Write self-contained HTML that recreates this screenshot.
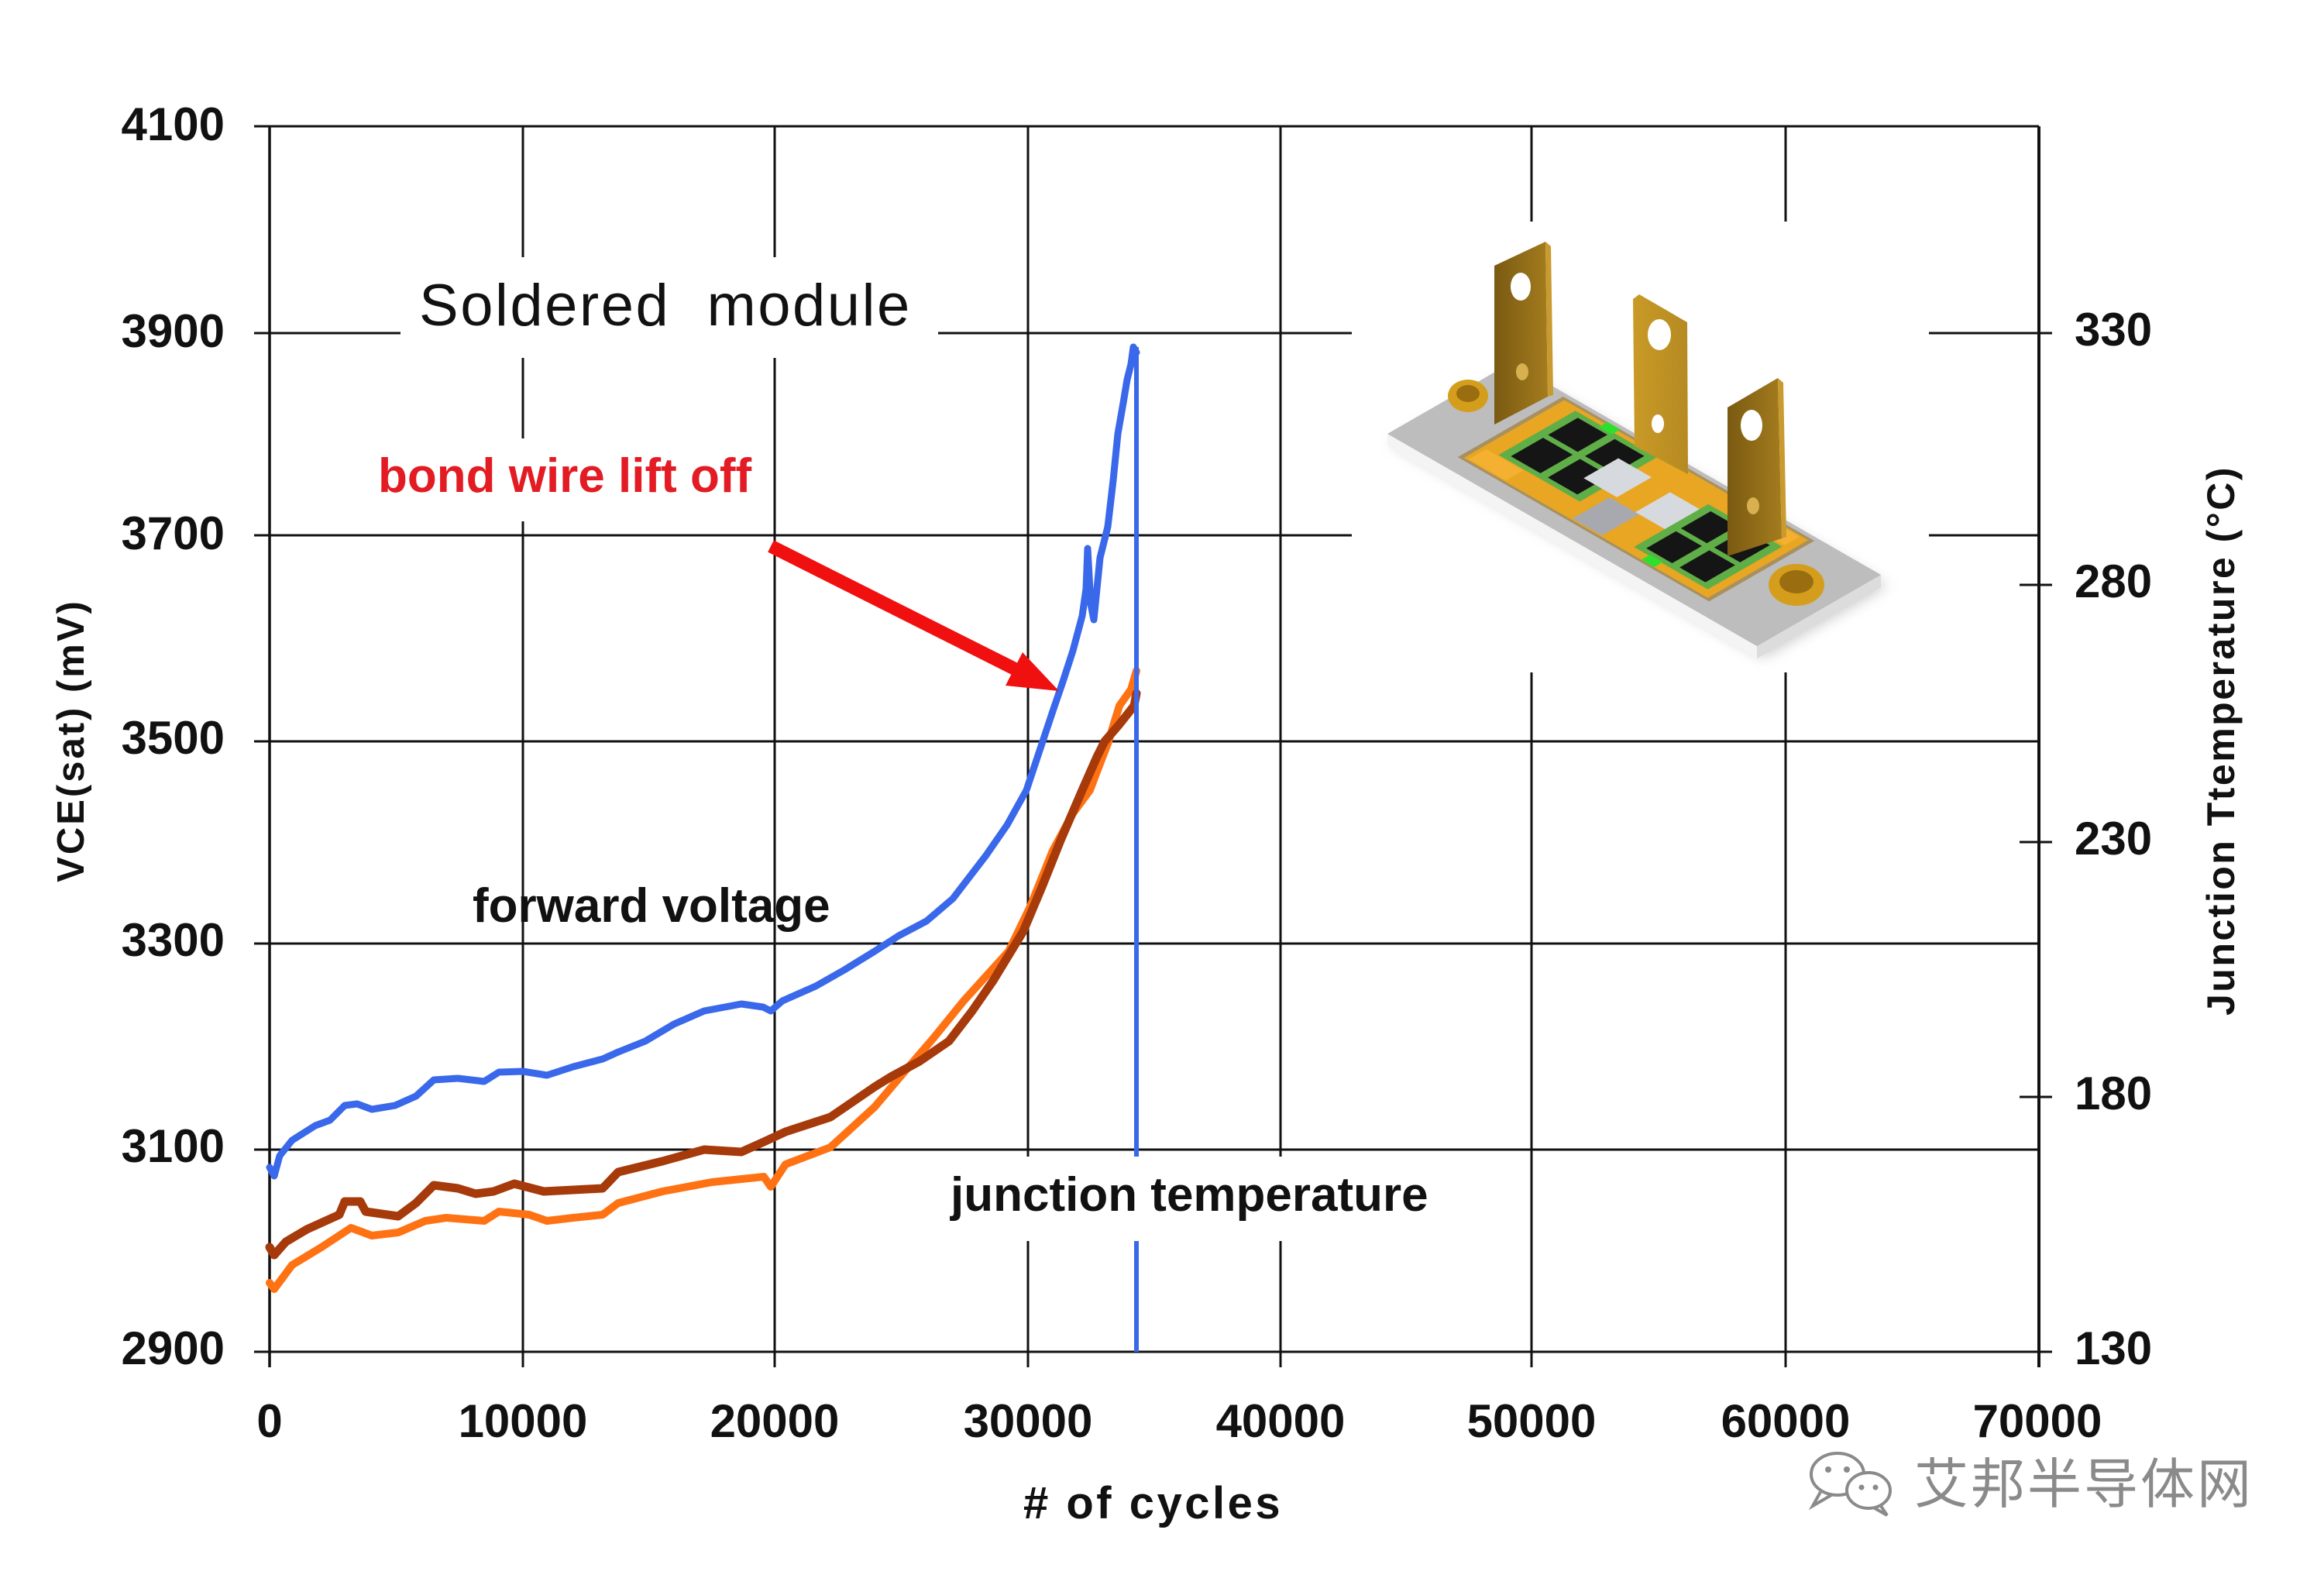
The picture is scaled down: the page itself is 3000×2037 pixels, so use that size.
<!DOCTYPE html>
<html><head><meta charset="utf-8">
<style>
html,body{margin:0;padding:0;background:#fff;}
svg{display:block;}
</style></head>
<body>
<svg width="3000" height="2037" viewBox="0 0 3000 2037" xmlns="http://www.w3.org/2000/svg" font-family="'Liberation Sans', Arial, sans-serif">
<defs>
<filter id="blur" x="-20%" y="-20%" width="140%" height="140%"><feGaussianBlur stdDeviation="9"/></filter>
<linearGradient id="tdark" x1="0" y1="0" x2="1" y2="0"><stop offset="0" stop-color="#7a5a12"/><stop offset="1" stop-color="#a47c1e"/></linearGradient>
<linearGradient id="tlight" x1="0" y1="0" x2="1" y2="0"><stop offset="0" stop-color="#c99a26"/><stop offset="1" stop-color="#b58a22"/></linearGradient>
</defs>
<rect width="3000" height="2037" fill="#fff"/>

<!-- gridlines -->
<g stroke="#111" stroke-width="3" fill="none">
<line x1="328" y1="163" x2="2632" y2="163"/>
<line x1="328" y1="430" x2="2649" y2="430"/>
<line x1="328" y1="691" x2="2632" y2="691"/>
<line x1="328" y1="957" x2="2632" y2="957"/>
<line x1="328" y1="1218" x2="2632" y2="1218"/>
<line x1="328" y1="1484" x2="2632" y2="1484"/>
<line x1="328" y1="1745" x2="2649" y2="1745"/>
<line x1="675" y1="163" x2="675" y2="1765"/>
<line x1="1000" y1="163" x2="1000" y2="1765"/>
<line x1="1327" y1="163" x2="1327" y2="1765"/>
<line x1="1653" y1="163" x2="1653" y2="1765"/>
<line x1="1977" y1="163" x2="1977" y2="1765"/>
<line x1="2305" y1="163" x2="2305" y2="1765"/>
<line x1="2607" y1="755" x2="2649" y2="755"/>
<line x1="2607" y1="1087" x2="2649" y2="1087"/>
<line x1="2607" y1="1416" x2="2649" y2="1416"/>
</g>
<line x1="348" y1="163" x2="348" y2="1765" stroke="#111" stroke-width="3.5"/>
<line x1="2632" y1="163" x2="2632" y2="1765" stroke="#111" stroke-width="4"/>

<!-- data series -->
<g fill="none" stroke-linejoin="round" stroke-linecap="round">
<polyline stroke="#ff7214" stroke-width="10" points="348,1656 354,1664 377,1633 415,1610 453,1585 480,1595 514,1591 549,1576 576,1572 625,1576 644,1564 683,1568 706,1576 740,1572 778,1568 798,1553 855,1538 919,1526 986,1519 995,1532 1014,1503 1072,1481 1129,1429 1168,1383 1205,1340 1244,1292 1302,1228 1330,1170 1359,1098 1385,1050 1407,1020 1416,996 1430,960 1445,911 1460,890 1467,866"/>
<polyline stroke="#a63a0a" stroke-width="11" points="348,1610 354,1620 369,1603 396,1587 438,1568 445,1551 465,1551 472,1564 514,1570 537,1553 560,1530 591,1534 614,1541 637,1538 664,1528 702,1538 740,1536 778,1534 798,1513 855,1499 909,1484 957,1487 986,1474 1014,1461 1072,1442 1129,1403 1150,1390 1187,1370 1225,1344 1255,1305 1282,1266 1321,1202 1345,1145 1369,1085 1397,1020 1416,977 1426,957 1445,935 1464,911 1467,895"/>
<polyline stroke="#3a68ea" stroke-width="9" points="348,1507 354,1518 361,1492 377,1472 407,1453 426,1446 445,1427 461,1425 480,1432 510,1427 537,1415 560,1394 591,1392 625,1396 644,1384 675,1383 706,1388 740,1377 778,1367 798,1358 833,1344 870,1322 909,1305 957,1296 985,1300 995,1305 1010,1292 1053,1273 1090,1252 1129,1228 1160,1208 1196,1189 1230,1160 1273,1104 1300,1065 1325,1020 1345,960 1359,918 1372,880 1385,840 1397,795 1402,760 1404,708 1408,780 1412,800 1416,760 1420,720 1425,700 1430,680 1437,620 1443,560 1450,520 1455,490 1460,470 1463,448 1467,455"/>
<line x1="1467" y1="448" x2="1467" y2="1745" stroke="#3a68ea" stroke-width="6" stroke-linecap="butt"/>
</g>

<!-- white label boxes -->
<rect x="517" y="332" width="694" height="130" fill="#fff"/>
<rect x="470" y="566" width="520" height="107" fill="#fff"/>
<rect x="1200" y="1493" width="670" height="109" fill="#fff"/>
<rect x="1745" y="286" width="745" height="582" fill="#fff"/>

<!-- annotations -->
<text x="541" y="420" font-size="76" letter-spacing="2.5" fill="#111">Soldered&#160;&#160;module</text>
<text x="488" y="635" font-size="62" font-weight="bold" fill="#e31b23">bond wire lift off</text>
<text x="610" y="1190" font-size="62" font-weight="bold" fill="#111">forward voltage</text>
<text x="1227" y="1563" font-size="62" font-weight="bold" fill="#111">junction temperature</text>

<!-- arrow -->
<line x1="995" y1="705" x2="1315" y2="866" stroke="#f01010" stroke-width="17"/>
<polygon points="1367,892 1298,885 1320,842" fill="#f01010"/>

<!-- left tick labels -->
<g font-size="60" font-weight="bold" fill="#111" text-anchor="end">
<text x="290" y="181">4100</text>
<text x="290" y="448">3900</text>
<text x="290" y="709">3700</text>
<text x="290" y="973">3500</text>
<text x="290" y="1234">3300</text>
<text x="290" y="1500">3100</text>
<text x="290" y="1761">2900</text>
</g>
<!-- right tick labels -->
<g font-size="60" font-weight="bold" fill="#111">
<text x="2678" y="446">330</text>
<text x="2678" y="771">280</text>
<text x="2678" y="1103">230</text>
<text x="2678" y="1432">180</text>
<text x="2678" y="1761">130</text>
</g>
<!-- x tick labels -->
<g font-size="60" font-weight="bold" fill="#111" text-anchor="middle">
<text x="348" y="1855">0</text>
<text x="675" y="1855">10000</text>
<text x="1000" y="1855">20000</text>
<text x="1327" y="1855">30000</text>
<text x="1653" y="1855">40000</text>
<text x="1977" y="1855">50000</text>
<text x="2305" y="1855">60000</text>
<text x="2630" y="1855">70000</text>
</g>
<text x="1321" y="1960" font-size="58" font-weight="bold" letter-spacing="3.5" fill="#111"># of cycles</text>
<text transform="translate(108,956) rotate(-90)" text-anchor="middle" font-size="49" font-weight="bold" letter-spacing="3" fill="#111">VCE(sat) (mV)</text>
<text transform="translate(2884,956) rotate(-90)" text-anchor="middle" font-size="50" font-weight="bold" letter-spacing="2.5" fill="#111">Junction Ttemperature (°C)</text>

<!-- module illustration -->
<g>
<polygon points="1796,572 1956,480 2436,756 2276,848" fill="#9a9a9a" opacity="0.55" filter="url(#blur)"/>
<polygon points="1791,560 2268,834 2268,850 1791,576" fill="#f4f4f4"/>
<polygon points="2268,834 2428,742 2428,758 2268,850" fill="#dcdcdc"/>
<g transform="matrix(477,274,160,-92,1791,560)">
<rect x="0" y="0" width="1" height="1" fill="#bdbdbd"/>
<rect x="0.15" y="0.12" width="0.68" height="0.85" fill="#a89060"/>
<rect x="0.16" y="0.14" width="0.66" height="0.81" fill="#e8a622"/>
<rect x="0.2" y="0.3" width="0.22" height="0.62" fill="#5fae48"/>
<rect x="0.22" y="0.34" width="0.08" height="0.26" fill="#151515"/>
<rect x="0.22" y="0.64" width="0.08" height="0.24" fill="#151515"/>
<rect x="0.32" y="0.34" width="0.08" height="0.26" fill="#151515"/>
<rect x="0.32" y="0.64" width="0.08" height="0.24" fill="#151515"/>
<rect x="0.37" y="0.48" width="0.09" height="0.28" fill="#d6d9de"/>
<rect x="0.45" y="0.15" width="0.08" height="0.3" fill="#a7a9ae"/>
<rect x="0.52" y="0.45" width="0.09" height="0.28" fill="#d6d9de"/>
<rect x="0.6" y="0.2" width="0.2" height="0.6" fill="#5fae48"/>
<rect x="0.62" y="0.24" width="0.07" height="0.24" fill="#151515"/>
<rect x="0.62" y="0.52" width="0.07" height="0.24" fill="#151515"/>
<rect x="0.71" y="0.24" width="0.07" height="0.24" fill="#151515"/>
<rect x="0.71" y="0.52" width="0.07" height="0.24" fill="#151515"/>
<rect x="0.27" y="0.9" width="0.035" height="0.07" fill="#2ee02e"/>
<rect x="0.64" y="0.14" width="0.035" height="0.07" fill="#2ee02e"/>
<rect x="0.17" y="0.15" width="0.1" height="0.14" fill="#f4b030"/>
<rect x="0.7" y="0.82" width="0.1" height="0.12" fill="#f4b030"/>
</g>
<!-- washers -->
<ellipse cx="1895" cy="511" rx="26" ry="21" fill="#d49e1c"/>
<ellipse cx="1895" cy="508" rx="15" ry="11" fill="#9a6e10"/>
<ellipse cx="2319" cy="755" rx="36" ry="27" fill="#d49e1c"/>
<ellipse cx="2319" cy="751" rx="22" ry="15" fill="#9a6e10"/>
<!-- terminal 1 -->
<polygon points="1929,343 1995,312 1998,512 1929,548" fill="url(#tdark)"/>
<polygon points="1995,312 2002,318 2005,510 1998,512" fill="#c89a30"/>
<ellipse cx="1963" cy="370" rx="13" ry="18" fill="#fff"/>
<ellipse cx="1965" cy="480" rx="8" ry="11" fill="#d8b050"/>
<!-- terminal 2 -->
<polygon points="2108,386 2116,380 2178,416 2179,612 2110,576" fill="url(#tlight)"/>
<ellipse cx="2142" cy="432" rx="15" ry="20" fill="#fff"/>
<ellipse cx="2140" cy="547" rx="8" ry="12" fill="#fff"/>
<!-- terminal 3 -->
<polygon points="2230,526 2295,488 2300,695 2230,718" fill="url(#tdark)"/>
<polygon points="2295,488 2302,494 2306,693 2300,695" fill="#c89a30"/>
<ellipse cx="2261" cy="549" rx="14" ry="20" fill="#fff"/>
<ellipse cx="2263" cy="653" rx="8" ry="11" fill="#d8b050"/>
</g>

<!-- watermark -->
<g fill="none" stroke="#8a8a8a" stroke-width="4">
<ellipse cx="2372" cy="1903" rx="34" ry="27"/>
<path d="M2350,1926 L2340,1944 L2364,1930"/>
<ellipse cx="2412" cy="1924" rx="28" ry="23" fill="#fff"/>
<path d="M2428,1944 L2436,1956 L2420,1947"/>
</g>
<circle cx="2360" cy="1897" r="4" fill="#8a8a8a"/>
<circle cx="2384" cy="1897" r="4" fill="#8a8a8a"/>
<circle cx="2403" cy="1920" r="3.5" fill="#8a8a8a"/>
<circle cx="2421" cy="1920" r="3.5" fill="#8a8a8a"/>
<text x="2471" y="1940" font-family="'Liberation Sans','Noto Sans CJK SC',sans-serif" font-size="70" letter-spacing="3" fill="#8a8a8a">艾邦半导体网</text>
</svg>
</body></html>
